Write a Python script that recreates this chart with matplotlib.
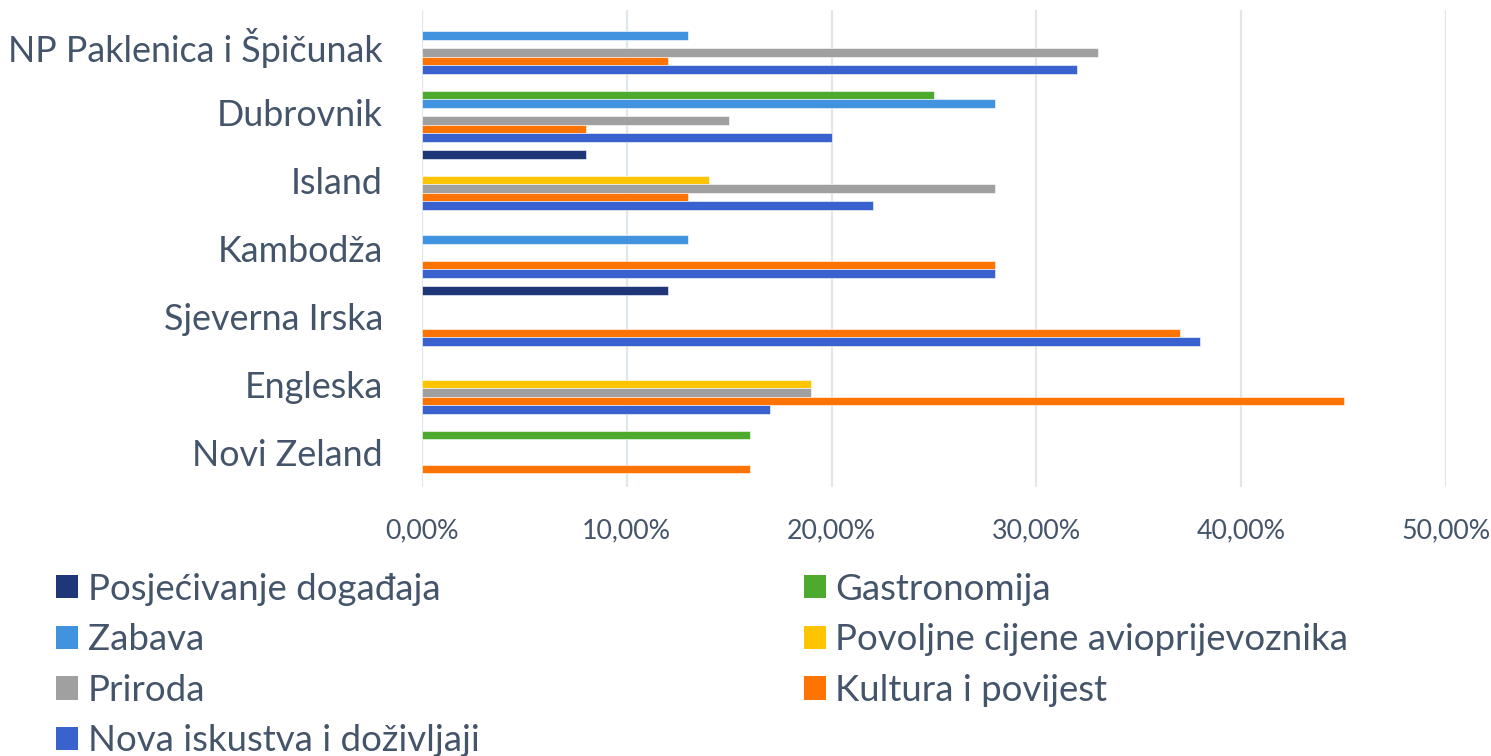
import numpy as np
import matplotlib
matplotlib.use("Agg")
import matplotlib.pyplot as plt
from matplotlib.patches import Patch

plt.rcParams['font.family'] = ['Lato', 'DejaVu Sans']

categories = ["NP Paklenica i Špičunak", "Dubrovnik", "Island", "Kambodža",
              "Sjeverna Irska", "Engleska", "Novi Zeland"]

# values in % per category (0 = no bar)
posjecivanje = [0, 8, 0, 12, 0, 0, 0]
nova_iskustva = [32, 20, 22, 28, 38, 17, 0]
kultura = [12, 8, 13, 28, 37, 45, 16]
priroda = [33, 15, 28, 0, 0, 19, 0]
povoljne = [0, 0, 14, 0, 0, 19, 0]
zabava = [13, 28, 0, 13, 0, 0, 0]
gastronomija = [0, 25, 0, 0, 0, 0, 16]

xticks = [0, 10, 20, 30, 40, 50]

text_col = "#44546A"

# slot (top -> bottom inside a group), label, values, colour
series = [
    (0, "Gastronomija", gastronomija, "#4DAA2E"),
    (1, "Zabava", zabava, "#4193DF"),
    (2, "Povoljne cijene avioprijevoznika", povoljne, "#FFC400"),
    (3, "Priroda", priroda, "#A0A0A0"),
    (4, "Kultura i povijest", kultura, "#FF7300"),
    (5, "Nova iskustva i doživljaji", nova_iskustva, "#3A62CF"),
    (7, "Posjećivanje događaja", posjecivanje, "#1F3778"),
]

fig = plt.figure(figsize=(14.91, 7.56), dpi=100)
ax = fig.add_axes([0.283, 0.356, 0.6868, 0.631])

y = np.arange(len(categories))
h = 0.125
handles = {}
for slot, name, vals, col in series:
    vals = np.array(vals, dtype=float)
    ax.barh(y - 0.261 + h * slot, np.where(vals > 0, vals, np.nan), height=h,
            color=col, edgecolor="white", linewidth=0.4)
    handles[name] = Patch(facecolor=col, edgecolor="none")

ax.set_xlim(0, 50)
ax.set_ylim(6.5, -0.515)
ax.set_xticks(xticks)
ax.set_xticklabels([f"{v},00%" for v in xticks], fontsize=19.3, color=text_col)
ax.set_yticks(y)
ax.set_yticklabels(categories, fontsize=25.8, color=text_col)
ax.tick_params(axis="x", length=0, pad=23)
ax.tick_params(axis="y", length=0, pad=28)
ax.grid(axis="x", color="#E1E5EC", linewidth=1.6)
ax.set_axisbelow(True)
for s in ax.spines.values():
    s.set_visible(False)

order = ["Posjećivanje događaja", "Zabava", "Priroda", "Nova iskustva i doživljaji",
         "Gastronomija", "Povoljne cijene avioprijevoznika", "Kultura i povijest"]
leg = fig.legend([handles[n] for n in order], order, ncol=2,
                 loc="upper left", bbox_to_anchor=(0.028, 0.262),
                 frameon=False, fontsize=26.4, labelcolor=text_col,
                 handlelength=0.6, handleheight=0.6, handletextpad=0.25,
                 labelspacing=0.48, columnspacing=8.85, borderaxespad=0)

fig.savefig("out.png", dpi=100)
